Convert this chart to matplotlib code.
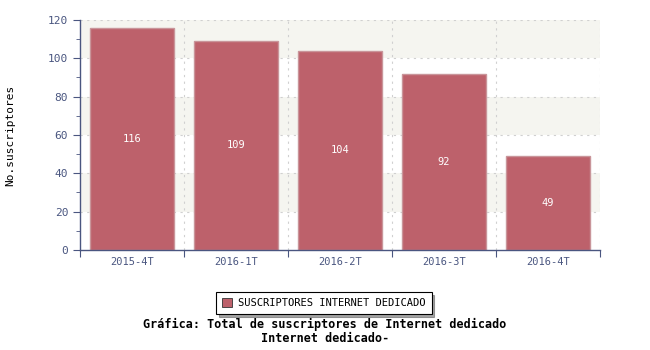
import numpy as np
import matplotlib
matplotlib.use('Agg')
import matplotlib.pyplot as plt
from matplotlib.patches import Rectangle

plt.rc('font', family='DejaVu Sans Mono')

# data
periods = ['2015-4T', '2016-1T', '2016-2T', '2016-3T', '2016-4T']
subscribers = [116, 109, 104, 92, 49]
series_name = 'SUSCRIPTORES INTERNET DEDICADO'

axis_col = '#4a5680'
bar_col = '#bd616b'

fig = plt.figure(figsize=(6.5, 3.5), dpi=100)
ax = fig.add_axes([0.123, 0.286, 0.8, 0.657])

x = np.arange(len(periods))
ax.set_xlim(-0.5, len(periods) - 0.5)
ax.set_ylim(0, 120)

# alternating background bands
for y0 in range(0, 120, 20):
    if (y0 // 20) % 2 == 1:
        ax.axhspan(y0, y0 + 20, color='#f5f5f0', zorder=0, lw=0)

# grid lines
for yv in range(20, 121, 20):
    ax.axhline(yv, color='#d0d0d0', lw=0.8, ls=(0, (2, 4)), zorder=1)
for xv in np.arange(0.5, len(periods), 1.0):
    ax.axvline(xv, color='#d0d0d0', lw=0.8, ls=(0, (2, 4)), zorder=1)

bars = ax.bar(x, subscribers, width=0.8, color=bar_col,
              edgecolor='#c9959a', linewidth=1.0, zorder=2)
for xi, v in zip(x, subscribers):
    ax.text(xi, v / 2, str(v), ha='center', va='center', color='white',
            fontsize=7.5, zorder=3)

ax.set_xticks(np.arange(-0.5, len(periods), 1.0))
ax.set_xticklabels([])
ax.set_xticks(x, minor=True)
ax.set_xticklabels(periods, minor=True)
ax.tick_params(axis='x', which='minor', length=0, pad=5, labelsize=7.5,
               labelcolor=axis_col)
ax.tick_params(axis='x', which='major', length=5, direction='out',
               color=axis_col)

ax.set_yticks(range(0, 121, 20))
ax.set_yticks(range(10, 120, 20), minor=True)
ax.tick_params(axis='y', which='major', length=5, color=axis_col,
               labelsize=8, labelcolor=axis_col)
ax.tick_params(axis='y', which='minor', length=3, color=axis_col)

for s in ['top', 'right']:
    ax.spines[s].set_visible(False)
for s in ['left', 'bottom']:
    ax.spines[s].set_color(axis_col)
    ax.spines[s].set_linewidth(1.0)

fig.text(0.016, 0.614, 'No.suscriptores', rotation=90, ha='center',
         va='center', fontsize=8)

# legend with shadow
leg = fig.legend([Rectangle((0, 0), 1, 1, fc=bar_col, ec='#333333', lw=0.6)],
                 [series_name], loc='center', bbox_to_anchor=(0.498, 0.134),
                 fontsize=7.5, frameon=True, fancybox=False, shadow=True,
                 handlelength=1.0, handleheight=1.0, borderpad=0.55,
                 handletextpad=0.6)
leg.get_frame().set_edgecolor('black')
leg.get_frame().set_linewidth(0.8)

fig.text(0.5, 0.073, 'Gráfica: Total de suscriptores de Internet dedicado',
         ha='center', va='center', fontsize=8.5, fontweight='bold')
fig.text(0.5, 0.034, 'Internet dedicado-', ha='center', va='center',
         fontsize=8.5, fontweight='bold')

fig.savefig('out.png', dpi=100)
